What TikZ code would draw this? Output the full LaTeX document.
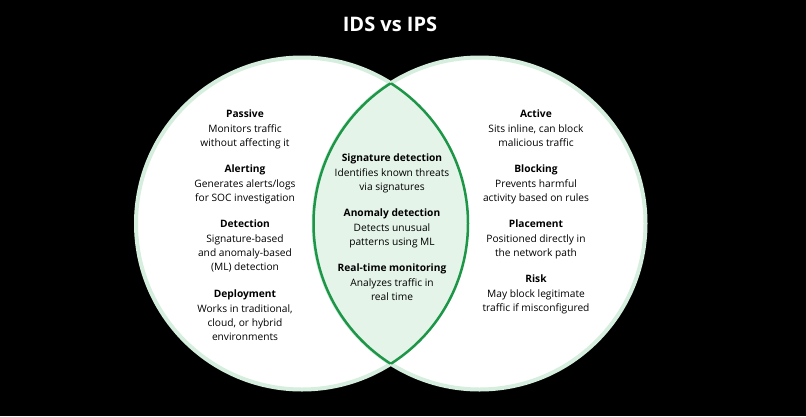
\documentclass[tikz,border=0pt]{standalone}
\usepackage{fontspec}
\setmainfont{Open Sans}
\definecolor{ring}{RGB}{214,238,222}
\definecolor{lens}{RGB}{228,244,233}
\definecolor{lensline}{RGB}{30,150,72}
\begin{document}
\begin{tikzpicture}[x=1pt,y=-1pt,
  txt/.style={align=center,font=\fontsize{10.2}{14.2}\selectfont,text=black,anchor=north,inner sep=0pt}]
\fill[black] (0,0) rectangle (806,416);
\useasboundingbox (0,0) rectangle (806,416);
\node[text=white,font=\bfseries\fontsize{20}{22}\selectfont] (title) at (390,24) {IDS vs IPS};
\draw[line width=4pt,draw=ring,fill=white] (302,223.5) circle (166);
\draw[line width=4pt,draw=ring,fill=white] (479.5,223.5) circle (166);
\begin{scope}
\clip (302,223.5) circle (166);
\fill[lens] (479.5,223.5) circle (166);
\end{scope}
\begin{scope}
\clip (302,223.5) circle (166);
\draw[line width=2.5pt,lensline] (479.5,223.5) circle (166);
\end{scope}
\begin{scope}
\clip (479.5,223.5) circle (166);
\draw[line width=2.5pt,lensline] (302,223.5) circle (166);
\end{scope}
\node[txt] (l1) at (245,110) {\textbf{Passive}\\Monitors traffic\\without affecting it};
\node[txt] (l2) at (245,165) {\textbf{Alerting}\\Generates alerts/logs\\for SOC investigation};
\node[txt] (l3) at (245,220) {\textbf{Detection}\\Signature-based\\and anomaly-based\\(ML) detection};
\node[txt] (l4) at (245,290) {\textbf{Deployment}\\Works in traditional,\\cloud, or hybrid\\environments};
\node[txt] (c1) at (392,154) {\textbf{Signature detection}\\Identifies known threats\\via signatures};
\node[txt] (c2) at (392,209) {\textbf{Anomaly detection}\\Detects unusual\\patterns using ML};
\node[txt] (c3) at (392,264) {\textbf{Real-time monitoring}\\Analyzes traffic in\\real time};
\node[txt] (r1) at (536,110) {\textbf{Active}\\Sits inline, can block\\malicious traffic};
\node[txt] (r2) at (536,165) {\textbf{Blocking}\\Prevents harmful\\activity based on rules};
\node[txt] (r3) at (536,220) {\textbf{Placement}\\Positioned directly in\\the network path};
\node[txt] (r4) at (536,275) {\textbf{Risk}\\May block legitimate\\traffic if misconfigured};
\end{tikzpicture}
\end{document}
